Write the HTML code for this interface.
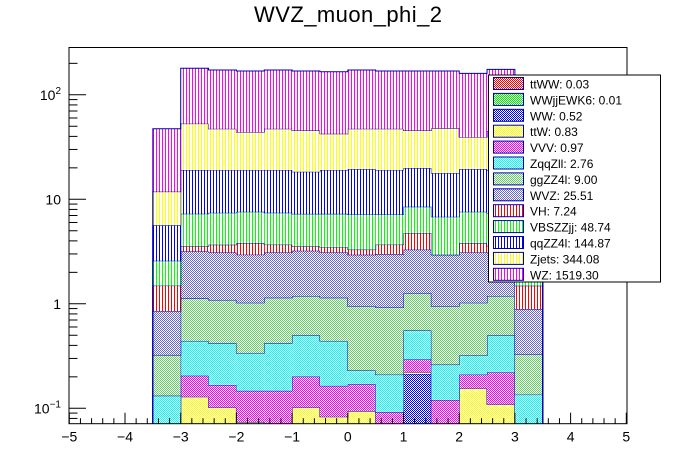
<!DOCTYPE html>
<html><head><meta charset="utf-8"><style>
body{margin:0;background:#fff;}
svg{display:block;font-family:"Liberation Sans",sans-serif;}
</style></head><body>
<svg id="chart" width="696" height="472" viewBox="0 0 696 472" xmlns="http://www.w3.org/2000/svg">
<defs id="defs"></defs>
<rect x="0" y="0" width="696" height="472" fill="#fff"/>
<text x="348" y="22" font-size="22" text-anchor="middle" textLength="188">WVZ_muon_phi_2</text>
<g id="plot"></g>
<g id="axes"></g>
<g id="legend"></g>
</svg>
<script>
// bin edges -3.5..3.5, width 0.5
const binLow = [-3.5,-3,-2.5,-2,-1.5,-1,-0.5,0,0.5,1,1.5,2,2.5,3];
const binWidth = 0.5;
const seriesNames = ["ttWW","WWjjEWK6","WW","ttW","VVV","ZqqZll","ggZZ4l","WVZ","VH","VBSZZjj","qqZZ4l","Zjets","WZ"];
const seriesTotals = ["0.03","0.01","0.52","0.83","0.97","2.76","9.00","25.51","7.24","48.74","144.87","344.08","1519.30"];
const ttWW   = [0,0,0,0,0,0,0,0,0,0,0,0,0,0];
const WWjj   = [0,0,0,0,0,0,0,0,0,0,0,0,0,0];
const WW     = [0,0,0,0,0,0,0,0,0,0.213,0,0,0,0];
const ttW    = [0,0.129,0.102,0.074,0,0.102,0.083,0.094,0,0.008,0,0.155,0.109,0];
const VVV    = [0,0.076,0.065,0.073,0.147,0.099,0.081,0.076,0.092,0.072,0.12,0.055,0.112,0];
const ZqqZll = [0.132,0.235,0.254,0.19,0.274,0.298,0.276,0.06,0.118,0.264,0.142,0.11,0.278,0.135];
const ggZZ4l = [0.192,0.685,0.665,0.685,0.722,0.687,0.703,0.72,0.711,0.70,0.688,0.702,0.687,0.193];
const WVZ    = [0.527,2.05,2.01,1.93,1.96,2.03,1.96,2.00,2.07,2.04,2.00,2.08,1.9,0.562];
const VH     = [0.64,0.38,0.58,0.86,0.58,0.33,0.37,0.35,0.69,1.46,0,0.71,0.5,0.6];
const VBSZZjj= [1.09,3.71,3.75,3.78,3.75,3.71,3.79,3.87,3.49,3.73,3.85,3.78,3.8,1.1];
const qqZZ4l = [3.07,11.8,11.62,11.46,11.62,11.07,11.79,12.29,11.88,11.41,11.01,11.87,11.6,3.0];
const Zjets  = [6.19,33.85,28.25,24.85,28.25,27.27,23.35,27.84,28.25,25.7,30.1,19.84,26,6.0];
const WZ     = [35.5,126.5,125.3,125.1,125.3,123.4,123.9,125.3,121.7,123.4,121.1,121.1,130,36];
const xTicks = [-5,-4,-3,-2,-1,0,1,2,3,4,5];
const xTickLabels = ["\u22125","\u22124","\u22123","\u22122","\u22121","0","1","2","3","4","5"];

const seriesData = [ttWW,WWjj,WW,ttW,VVV,ZqqZll,ggZZ4l,WVZ,VH,VBSZZjj,qqZZ4l,Zjets,WZ];
const colors = ["#ff0000","#00ee00","#0000ff","#ffff00","#ff00ff","#00ffff","#66cc66","#6666cc","#ff0000","#00ff00","#0000ff","#ffff00","#ff00ff"];
const hatched = [false,false,false,false,false,false,false,false,true,true,true,true,true];

const NS="http://www.w3.org/2000/svg";
const FL=69, FR=627, FT=47.5, FB=423.7;
const X0=347.8, XS=55.7;
const LY1=303.8, LD=104.5;
function xs(v){return X0+XS*v;}
function ys(v){ if(v<=0) return FB+5; let y=LY1-LD*Math.log10(v); return y;}
function clampY(y){return Math.max(FT,Math.min(FB,y));}
function mk(tag,attrs,parent){const e=document.createElementNS(NS,tag);for(const k in attrs)e.setAttribute(k,attrs[k]);parent.appendChild(e);return e;}

const defs=document.getElementById('defs');
colors.forEach((c,i)=>{
  const p=mk('pattern',{id:'pat'+i,patternUnits:'userSpaceOnUse',width:hatched[i]?3:2,height:2},defs);
  mk('rect',{x:0,y:0,width:hatched[i]?3:2,height:2,fill:'#fff'},p);
  if(hatched[i]){ mk('rect',{x:0,y:0,width:1,height:2,fill:c},p); }
  else { mk('rect',{x:0,y:0,width:1,height:1,fill:c},p); mk('rect',{x:1,y:1,width:1,height:1,fill:c},p); }
});

const plot=document.getElementById('plot');
const cp=mk('clipPath',{id:'frameclip'},defs);
mk('rect',{x:FL,y:FT,width:FR-FL,height:FB-FT},cp);
plot.setAttribute('clip-path','url(#frameclip)');
const cum=binLow.map(()=>0);
seriesData.forEach((arr,si)=>{
  const g=mk('g',{},plot);
  
  
  const bottoms=cum.slice();
  arr.forEach((v,b)=>{cum[b]+=v;});
  if(arr.every(v=>v===0)) return;
  let d='';
  binLow.forEach((lo,b)=>{
    const x1=xs(lo), x2=xs(lo+binWidth);
    const yt=clampY(ys(cum[b])), yb=bottoms[b]>0?clampY(ys(bottoms[b])):FB;
    if(arr[b]>0 && yb>yt){
      const r=mk('rect',{x:x1,y:yt,width:x2-x1,height:yb-yt,fill:'url(#pat'+si+')'},g);
      
      
    }
  });
  // outline
  const first=cum.findIndex(v=>v>0), last=cum.length-1-cum.slice().reverse().findIndex(v=>v>0);
  d='M'+xs(binLow[first])+','+FB;
  for(let b=first;b<=last;b++){
    const yt=cum[b]>0?ys(cum[b]):FB;
    d+=' L'+xs(binLow[b])+','+yt+' L'+xs(binLow[b]+binWidth)+','+yt;
  }
  d+=' L'+xs(binLow[last]+binWidth)+','+FB;
  const o=mk('path',{d:d,fill:'none',stroke:'#0000aa','stroke-width':1},g);
  
  
});

// axes
const ax=document.getElementById('axes');
const fr=mk('rect',{x:FL,y:FT,width:FR-FL,height:FB-FT,fill:'none',stroke:'#000','stroke-width':1},ax);


for(let i=0;i<=50;i++){
  const v=-5+i*0.2, x=xs(v), major=(i%5===0);
  mk('line',{x1:x,x2:x,y1:FB,y2:FB-(major?11:5.5),stroke:'#000','stroke-width':1},ax);
}
xTicks.forEach((v,i)=>{
  const t=mk('text',{x:xs(v),y:FB+18,'font-size':14,'text-anchor':'middle'},ax);
  t.textContent=xTickLabels[i];
  
  
});
for(let e=-2;e<=2;e++){
  for(let m=1;m<10;m++){
    const v=m*Math.pow(10,e); const y=ys(v);
    if(y<FT||y>FB) continue;
    mk('line',{x1:FL,x2:FL+(m===1?17:8.5),y1:y,y2:y,stroke:'#000','stroke-width':1},ax);
  }
}
const yLabels=[[0.1,"10","\u22121"],[1,"1",""],[10,"10",""],[100,"10","2"]];
yLabels.forEach(l=>{
  const y=ys(l[0]);
  const t=mk('text',{x:FL-8,y:y+5,'font-size':14,'text-anchor':'end'},ax);
  
  
  if(l[2]){
    const a=document.createElementNS(NS,'tspan');a.textContent=l[1];t.appendChild(a);
    const s=document.createElementNS(NS,'tspan');s.setAttribute('font-size','10');s.setAttribute('dy','-6');s.textContent=l[2];t.appendChild(s);
  } else t.textContent=l[1];
});

// legend
const lg=document.getElementById('legend');
const lb=mk('rect',{x:488.5,y:75,width:172,height:207,fill:'#fff',stroke:'#000','stroke-width':1},lg);


seriesNames.forEach((n,i)=>{
  const y=77.5+i*15.9;
  const g=mk('g',{},lg);
  
  
  mk('rect',{x:493.5,y:y,width:30,height:12,fill:'url(#pat'+i+')',stroke:'#0000aa','stroke-width':1},g);
  const t=mk('text',{x:530,y:y+11,'font-size':12},g);
  t.textContent=n+': '+seriesTotals[i];
});
</script>
</body></html>
